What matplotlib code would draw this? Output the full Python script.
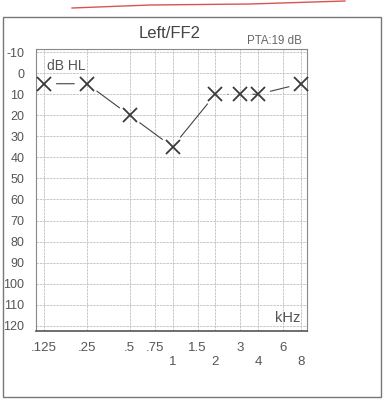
import matplotlib
matplotlib.use("Agg")
import matplotlib.pyplot as plt
from matplotlib.patches import Rectangle
from matplotlib.lines import Line2D
import matplotlib.ticker as mticker

plt.rcParams["font.family"] = ["Liberation Sans", "DejaVu Sans"]

# ---- data ----
freqs_khz = [0.125, 0.25, 0.5, 1, 2, 3, 4, 8]
thresholds_db = [5, 5, 20, 35, 10, 10, 10, 5]
segment_styles = ["-", "-", "-", "-", "--", "--", "-"]

upper_ticks = [0.125, 0.25, 0.5, 0.75, 1.5, 3, 6]
upper_labels = [".125", ".25", ".5", ".75", "1.5", "3", "6"]
lower_ticks = [1, 2, 4, 8]
lower_labels = ["1", "2", "4", "8"]
y_ticks = list(range(-10, 121, 10))

title = "Left/FF2"
pta_text = "PTA:19 dB"

# ---- figure ----
W, H = 386, 403
fig = plt.figure(figsize=(W / 100, H / 100), dpi=100)
fig.patch.set_facecolor("white")

# outer frame
fig.patches.append(Rectangle((3 / W, 1 - 397 / H), (381 - 3) / W, (397 - 17) / H,
                             transform=fig.transFigure, fill=False,
                             edgecolor="#777777", linewidth=1.0))
# red pen stroke at top
fig.lines.append(Line2D([72 / W, 150 / W, 250 / W, 345 / W],
                        [1 - 8 / H, 1 - 5 / H, 1 - 4 / H, 1 - 1 / H],
                        transform=fig.transFigure, color="#d9534f", linewidth=1.0))

ax = fig.add_axes([36 / W, 1 - 331 / H, (307 - 36) / W, (331 - 49) / H])
ax.set_xscale("log", base=2)
ax.set_xlim(0.110, 8.8)
ax.set_ylim(122.5, -11.5)

ax.xaxis.set_major_locator(mticker.FixedLocator(upper_ticks))
ax.xaxis.set_major_formatter(mticker.FixedFormatter(upper_labels))
ax.xaxis.set_minor_locator(mticker.FixedLocator(lower_ticks))
ax.xaxis.set_minor_formatter(mticker.FixedFormatter(lower_labels))
ax.set_yticks(y_ticks)
ax.set_yticklabels([str(v) for v in y_ticks])

ax.tick_params(axis="x", which="major", length=0, pad=8, labelsize=9.5, labelcolor="#555555")
ax.tick_params(axis="x", which="minor", length=0, pad=18, labelsize=9.5, labelcolor="#555555")
ax.tick_params(axis="y", length=0, pad=8.5, labelsize=9, labelcolor="#555555")

ax.grid(True, which="both", axis="x", color="#c0c0c0", linewidth=0.6, linestyle=(0, (3, 1)))
ax.grid(True, which="major", axis="y", color="#c0c0c0", linewidth=0.6, linestyle=(0, (3, 1)))
ax.set_axisbelow(True)
for side, sp in ax.spines.items():
    sp.set_color("#888888")
    sp.set_linewidth(0.8)
ax.spines["bottom"].set_color("#555555")
ax.spines["bottom"].set_linewidth(1.2)
ax.spines["bottom"].set_linestyle((0, (4, 1)))

# connecting segments, stopping short of markers
for i in range(len(freqs_khz) - 1):
    ax.annotate("", xy=(freqs_khz[i + 1], thresholds_db[i + 1]),
                xytext=(freqs_khz[i], thresholds_db[i]),
                arrowprops=dict(arrowstyle="-", color="#444444", lw=0.8,
                                linestyle=segment_styles[i], shrinkA=9, shrinkB=9))

ax.plot(freqs_khz, thresholds_db, linestyle="none", marker="x", markersize=10.5,
        markeredgewidth=1.3, color="#3a3a3a", clip_on=False, zorder=5)

ax.text(0.04, 0.965, "dB HL", transform=ax.transAxes, fontsize=10, color="#555555",
        ha="left", va="top")
ax.text(0.975, 0.02, "kHz", transform=ax.transAxes, fontsize=10.5, color="#555555",
        ha="right", va="bottom")
ax.text(0.98, 1.008, pta_text, transform=ax.transAxes, fontsize=8.3, color="#666666",
        ha="right", va="bottom")
fig.text(170 / W, 1 - 34 / H, title, fontsize=12, color="#444444", ha="center", va="center")

fig.savefig("out.png", dpi=100)
